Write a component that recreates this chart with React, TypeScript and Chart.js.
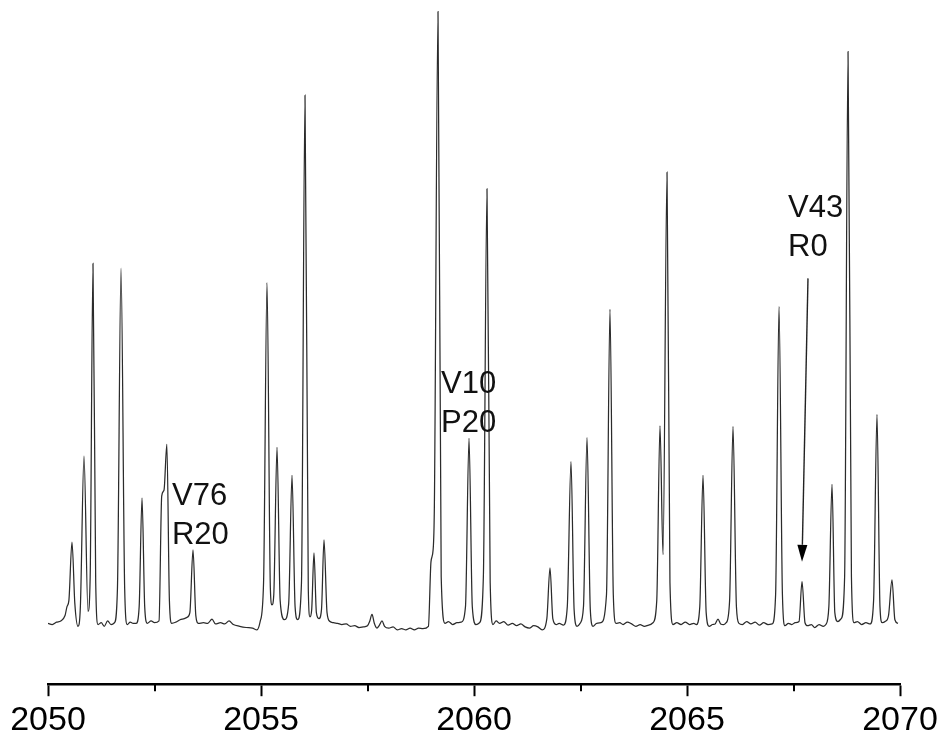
import React, { useEffect, useRef } from "react";
import { Chart, registerables } from "chart.js";

Chart.register(...registerables);

// Spectrum: [wavenumber (cm-1), intensity (a.u.)]
const band2050: [number, number][] = [
  [2050.0, 0.2], [2050.1, 0.0], [2050.2, 0.4], [2050.3, 0.6], [2050.4, 1.5], [2050.446, 3.0],
  [2050.49, 4.0], [2050.563, 13.8], [2050.63, 3.5], [2050.704, -0.3], [2050.76, 3.0], [2050.845, 28.2],
  [2050.939, 2.2], [2050.99, 8.0], [2051.056, 60.5], [2051.12, 7.0], [2051.174, 0.0], [2051.25, 0.3],
  [2051.32, -0.3], [2051.4, 0.6], [2051.48, 0.0], [2051.56, 0.3], [2051.63, 6.0], [2051.714, 59.7],
  [2051.8, 6.0], [2051.86, 0.0], [2051.93, 0.4], [2052.0, 0.2], [2052.07, 0.2], [2052.14, 3.0],
  [2052.207, 21.2], [2052.27, 3.0], [2052.33, 0.2], [2052.42, 0.6], [2052.5, 0.3], [2052.606, 0.6],
  [2052.669, 21.5], [2052.723, 22.5], [2052.79, 30.2], [2052.85, 4.0], [2052.904, 0.2], [2053.0, 0.4],
  [2053.1, 0.8], [2053.2, 1.0], [2053.263, 1.2], [2053.33, 2.0], [2053.404, 12.5], [2053.47, 1.5],
  [2053.53, 0.2], [2053.65, 0.3], [2053.75, 0.2], [2053.85, 0.9], [2053.93, 0.1], [2054.05, 0.3],
  [2054.15, 0.1], [2054.25, 0.6], [2054.35, 0.0], [2054.5, -0.3], [2054.65, -0.5], [2054.8, -0.6],
  [2054.906, -0.9],
];

const band2055: [number, number][] = [
  [2054.98, 0.5], [2055.06, 7.0], [2055.141, 57.3], [2055.22, 6.0], [2055.258, 3.3], [2055.3, 5.0],
  [2055.376, 29.7], [2055.45, 4.0], [2055.55, 0.8], [2055.65, 3.5], [2055.728, 25.0], [2055.8, 3.0],
  [2055.86, 0.8], [2055.95, 7.0], [2056.033, 88.7], [2056.11, 6.0], [2056.15, 1.3], [2056.19, 2.5],
  [2056.244, 12.0], [2056.3, 2.0], [2056.36, 1.0], [2056.42, 2.5], [2056.479, 14.2], [2056.55, 2.0],
  [2056.62, 0.5], [2056.7, 0.3], [2056.8, 0.2], [2056.9, 0.0], [2057.0, 0.1], [2057.1, -0.3],
  [2057.2, -0.2], [2057.3, -0.5], [2057.4, -0.4], [2057.5, -0.2], [2057.55, 0.5], [2057.606, 1.7],
  [2057.66, 0.2], [2057.72, -0.6], [2057.78, -0.1], [2057.84, 0.6], [2057.9, -0.3], [2058.0, -0.6],
  [2058.1, -0.4], [2058.2, -0.9], [2058.3, -0.7], [2058.4, -0.9], [2058.5, -0.6], [2058.6, -0.9],
  [2058.7, -0.6], [2058.8, -0.7], [2058.93, -0.3], [2058.99, 10.5], [2059.04, 12.5], [2059.07, 20.0],
  [2059.155, 102.7], [2059.23, 8.0], [2059.319, 0.2], [2059.4, 0.5], [2059.5, 0.0], [2059.6, 0.3],
  [2059.7, 0.4], [2059.8, 3.0], [2059.883, 31.2], [2059.96, 3.0],
];

const band2060: [number, number][] = [
  [2060.047, 0.0], [2060.13, 0.3], [2060.22, 8.0], [2060.305, 73.0], [2060.38, 7.0], [2060.446, 0.0],
  [2060.52, 0.6], [2060.6, 0.2], [2060.7, 0.5], [2060.8, -0.1], [2060.9, 0.2], [2061.0, -0.2],
  [2061.1, 0.1], [2061.2, -0.4], [2061.3, -0.6], [2061.4, -0.2], [2061.5, -0.4], [2061.6, -0.9],
  [2061.71, 1.0], [2061.784, 9.5], [2061.85, 1.0], [2061.93, 0.0], [2062.0, 0.2], [2062.1, -0.1],
  [2062.19, 3.0], [2062.277, 27.3], [2062.35, 2.5], [2062.418, -0.3], [2062.49, 0.2], [2062.57, 3.0],
  [2062.653, 31.3], [2062.73, 2.5], [2062.793, -0.3], [2062.88, 0.2], [2062.98, 0.3], [2063.11, 5.0],
  [2063.192, 52.8], [2063.27, 5.0], [2063.333, 0.2], [2063.42, 0.3], [2063.5, 0.0], [2063.6, 0.4],
  [2063.7, 0.1], [2063.8, -0.3], [2063.9, 0.0], [2064.0, -0.3], [2064.1, -0.1], [2064.2, 0.3],
  [2064.29, 4.0], [2064.366, 33.3], [2064.437, 11.7], [2064.531, 75.8], [2064.6, 7.0], [2064.671, 0.0],
];

const band2065: [number, number][] = [
  [2064.76, 0.3], [2064.86, 0.0], [2064.96, 0.4], [2065.06, 0.0], [2065.16, 0.2], [2065.22, 0.0],
  [2065.3, 3.0], [2065.376, 25.0], [2065.45, 2.0], [2065.52, -0.3], [2065.6, 0.0], [2065.66, 0.1],
  [2065.728, 0.9], [2065.79, 0.1], [2065.86, 0.0], [2065.92, 0.3], [2066.0, 4.0], [2066.08, 33.2],
  [2066.16, 3.0], [2066.22, 0.2], [2066.3, 0.0], [2066.4, 0.5], [2066.5, 0.1], [2066.6, 0.4],
  [2066.7, -0.1], [2066.8, 0.3], [2066.9, 0.0], [2067.0, 0.1], [2067.08, 5.0], [2067.16, 53.3],
  [2067.24, 5.0], [2067.3, -0.2], [2067.38, 0.2], [2067.46, 0.0], [2067.54, 0.3], [2067.63, 0.5],
  [2067.7, 7.2], [2067.77, 0.3], [2067.83, -0.2], [2067.92, 0.0], [2068.0, -0.5], [2068.1, 0.0],
  [2068.2, -0.3], [2068.26, 0.0], [2068.33, 3.0], [2068.404, 23.5], [2068.47, 2.0], [2068.54, 0.5],
  [2068.62, 1.0], [2068.7, 8.0], [2068.78, 96.0], [2068.86, 8.0], [2068.92, 0.3], [2069.0, 0.5],
  [2069.1, 0.0], [2069.2, 0.3], [2069.3, 0.1], [2069.38, 4.0], [2069.46, 35.2], [2069.53, 3.0],
  [2069.58, 0.3], [2069.65, 0.5], [2069.73, 1.5], [2069.812, 7.5], [2069.88, 0.8], [2069.953, 0.2],
];

const majorTicks = [2050, 2055, 2060, 2065, 2070];
const minorTicks = [2052.5, 2057.5, 2062.5, 2067.5];

const annotationLabels = [
  { x: 2052.91, y: 20.0, lines: ["V76", "R20"] },
  { x: 2059.225, y: 38.8, lines: ["V10", "P20"] },
  { x: 2067.371, y: 68.3, lines: ["V43", "R0"] },
];
const arrowStart = { x: 2067.84, y: 58.0 };
const arrowEnd = { x: 2067.7, y: 10.5 };

const FONT = '"Liberation Sans", Arial, Helvetica, sans-serif';

const overlayPlugin = {
  id: "overlay",
  afterDraw(chart: any) {
    const { ctx } = chart;
    const xs = chart.scales.x;
    const ys = chart.scales.y;
    ctx.save();
    // minor ticks
    ctx.strokeStyle = "#000";
    ctx.lineWidth = 2;
    minorTicks.forEach((v) => {
      const px = Math.round(xs.getPixelForValue(v));
      ctx.beginPath();
      ctx.moveTo(px, xs.top);
      ctx.lineTo(px, xs.top + 7);
      ctx.stroke();
    });
    // labels
    ctx.fillStyle = "#111";
    ctx.font = `31px ${FONT}`;
    ctx.textAlign = "left";
    ctx.textBaseline = "alphabetic";
    annotationLabels.forEach((a) => {
      const px = xs.getPixelForValue(a.x);
      const py = ys.getPixelForValue(a.y);
      a.lines.forEach((t, i) => ctx.fillText(t, px, py + i * 39));
    });
    // arrow
    const x1 = xs.getPixelForValue(arrowStart.x);
    const y1 = ys.getPixelForValue(arrowStart.y);
    const x2 = xs.getPixelForValue(arrowEnd.x);
    const y2 = ys.getPixelForValue(arrowEnd.y);
    const ang = Math.atan2(y2 - y1, x2 - x1);
    const headLen = 17;
    const headHalf = 5;
    const bx = x2 - headLen * Math.cos(ang);
    const by = y2 - headLen * Math.sin(ang);
    ctx.strokeStyle = "#222";
    ctx.lineWidth = 1.4;
    ctx.beginPath();
    ctx.moveTo(x1, y1);
    ctx.lineTo(bx, by);
    ctx.stroke();
    ctx.fillStyle = "#000";
    ctx.beginPath();
    ctx.moveTo(x2, y2);
    ctx.lineTo(bx + headHalf * Math.sin(ang), by - headHalf * Math.cos(ang));
    ctx.lineTo(bx - headHalf * Math.sin(ang), by + headHalf * Math.cos(ang));
    ctx.closePath();
    ctx.fill();
    ctx.restore();
  },
};

export default function App() {
  const canvasRef = useRef<HTMLCanvasElement | null>(null);

  useEffect(() => {
    if (!canvasRef.current) return;
    const points = [...band2050, ...band2055, ...band2060, ...band2065].map(([x, y]) => ({ x, y }));
    const chart = new Chart(canvasRef.current, {
      type: "line",
      data: {
        datasets: [
          {
            data: points,
            borderColor: "#2b2b2b",
            borderWidth: 1.25,
            pointRadius: 0,
            cubicInterpolationMode: "monotone",
            fill: false,
          },
        ],
      },
      options: {
        animation: false,
        responsive: false,
        maintainAspectRatio: false,
        layout: { padding: { left: 48, right: 43, top: 8, bottom: 1 } },
        plugins: { legend: { display: false }, tooltip: { enabled: false }, title: { display: false } },
        scales: {
          x: {
            type: "linear",
            min: 2050,
            max: 2070,
            afterBuildTicks: (scale: any) => {
              scale.ticks = majorTicks.map((v) => ({ value: v }));
            },
            ticks: {
              autoSkip: false,
              maxRotation: 0,
              padding: 4,
              color: "#000",
              font: { size: 34, family: FONT },
              callback: (v: any) => String(v),
            },
            grid: {
              drawOnChartArea: false,
              drawTicks: true,
              tickLength: 12,
              tickWidth: 2,
              tickColor: "#000",
            },
            border: { display: true, color: "#000", width: 2.5 },
          },
          y: { display: false, min: -10, max: 103.3 },
        },
      },
      plugins: [overlayPlugin],
    });
    return () => chart.destroy();
  }, []);

  return (
    <div style={{ position: "absolute", left: 0, top: 0, width: 943, height: 746, background: "#fff" }}>
      <canvas ref={canvasRef} width={943} height={746} style={{ display: "block" }} />
    </div>
  );
}
